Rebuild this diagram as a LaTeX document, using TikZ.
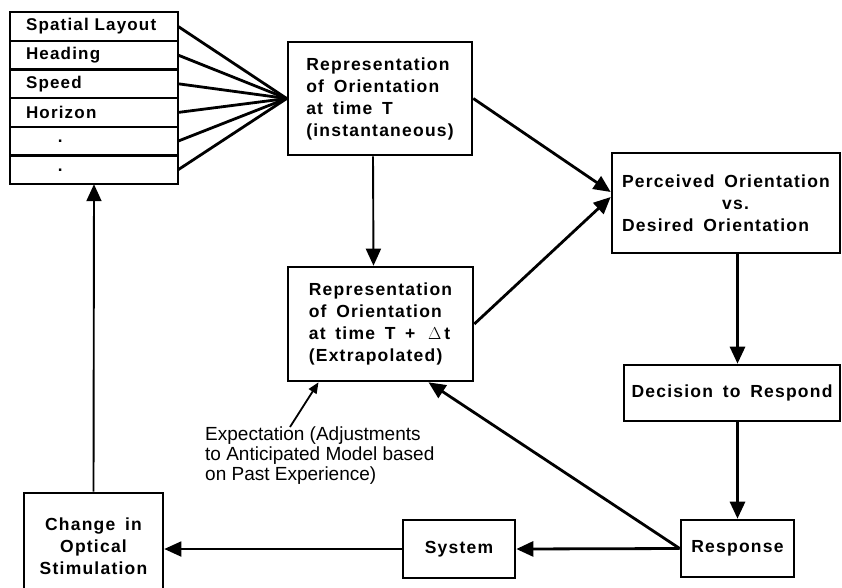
\documentclass[tikz,border=0pt]{standalone}
\usepackage{fontspec}
\setmainfont{Liberation Sans}
\newfontfamily\boxfont[LetterSpace=7, WordSpace=1.6]{Liberation Sans}
\usepackage{tikz}
\usetikzlibrary{positioning,arrows.meta}

\begin{document}
\begin{tikzpicture}[
  x=1pt, y=-1pt,
  box/.style   = {draw, line width=2.6pt, align=left, inner sep=0pt,
                  font=\boxfont\bfseries\fontsize{17.5}{22}\selectfont},
  cell/.style  = {draw, line width=2.4pt, outer sep=0pt, inner xsep=16pt, inner ysep=0pt,
                  minimum width=168pt, minimum height=28.7pt, text width=136pt, align=left,
                  font=\boxfont\bfseries\fontsize{17}{20}\selectfont},
  fan/.style   = {line width=2.8pt},
  flow/.style  = {-{Triangle[length=17pt, width=15pt]}, line width=2.8pt},
  thin/.style  = {-{Triangle[length=17pt, width=15pt]}, line width=1.9pt},
  hint/.style  = {-{Triangle[length=11pt, width=9pt]}, line width=1.8pt},
]
\useasboundingbox (0,0) rectangle (842,587);

% cue list
\node[cell, anchor=north west] (r1) at (10,12) {Spatial Layout};
\node[cell, below=0pt of r1] (r2) {Heading};
\node[cell, below=0pt of r2] (r3) {Speed};
\node[cell, below=0pt of r3] (r4) {Horizon};
\node[cell, below=0pt of r4] (r5) {\hspace*{32pt}.};
\node[cell, below=0pt of r5] (r6) {\hspace*{32pt}.};

% orientation boxes
\node[box, minimum width=184pt, minimum height=113pt] (repT) at (380,98.5)
  {Representation\\of Orientation\\at time T\\(instantaneous)};
\node[box, minimum width=185pt, minimum height=114pt] (repTd) at (380.5,324)
  {Representation\\of Orientation\\at time T + \,$\Delta$\,t\\(Extrapolated)};
\node[box, minimum width=228pt, minimum height=100pt] (perc) at (726,203)
  {Perceived Orientation\\\hspace*{100pt}vs.\\Desired Orientation};
\node[box, minimum width=216pt, minimum height=56pt] (dec) at (732,393) {Decision to Respond};
\node[box, minimum width=113pt, minimum height=57pt] (resp) at (737.5,548.5) {Response};
\node[box, minimum width=112pt, minimum height=58pt] (sys) at (459,549) {System};
\node[box, align=center, minimum width=139pt, minimum height=107pt] (chg) at (93.5,546.5)
  {Change in\\Optical\\Stimulation};

\node[align=left, inner sep=0pt, anchor=north west, font=\fontsize{19}{20}\selectfont]
  (exp) at (205,427) {Expectation (Adjustments\\to Anticipated Model based\\on Past Experience)};

% cues feed the instantaneous representation
\foreach \r in {r1,r2,r3,r4,r5,r6}
  \draw[fan] (\r.east) -- (repT.west);

\draw[thin] ([xshift=-7pt]repT.south) -- ([xshift=-7pt]repTd.north);
\draw[flow] (repT.east) -- ([yshift=11pt]perc.west);
\draw[flow] (repTd.east) -- ([yshift=6pt]perc.west);
\draw[flow] (perc.south -| resp.north) -- (dec.north -| resp.north);
\draw[flow] (dec.south -| resp.north) -- (resp.north);
\draw[flow] (resp.west) -- (sys.east);
\draw[flow] (resp.west) -- ([xshift=48pt]repTd.south);
\draw[thin] (sys.west) -- (sys.west -| chg.east);
\draw[thin] (chg.north) -- (r6.south);
\draw[hint] ([xshift=85pt]exp.north west) -- ([xshift=-62pt]repTd.south);

\end{tikzpicture}
\end{document}
